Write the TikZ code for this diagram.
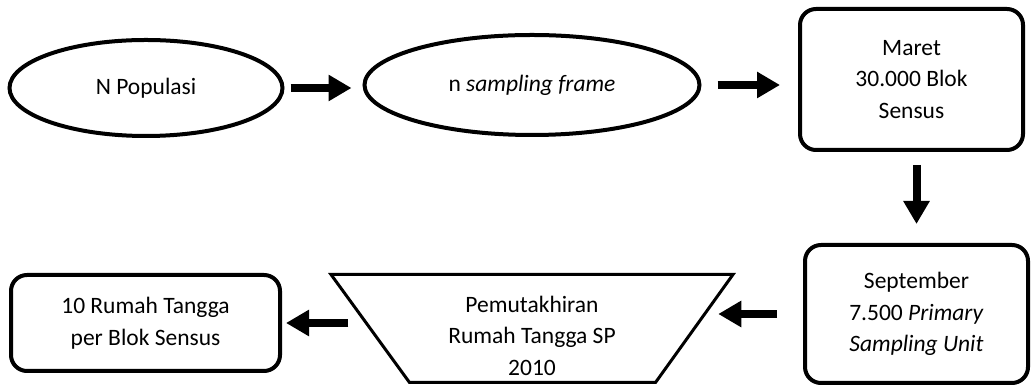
\documentclass[tikz,border=0pt]{standalone}
\usepackage{fontspec}
\setmainfont{Carlito}
\usetikzlibrary{shapes.geometric,arrows.meta}
\begin{document}
\begin{tikzpicture}[x=1pt,y=1pt,
  txt/.style={font=\fontsize{23.5}{31.5}\selectfont, align=center},
  ell/.style={ellipse, draw, line width=4pt, inner sep=0pt, outer sep=0pt, txt},
  rbox/.style={rectangle, rounded corners=16pt, draw, line width=4pt, inner sep=0pt, outer sep=0pt, txt},
  trapline/.style={draw, line width=3pt, line join=miter},
  arr/.style={line width=8pt, -{Triangle[length=23pt,width=25pt]}}
]
\useasboundingbox (0,0) rectangle (1032,387);
\node[ell, minimum width=273pt, minimum height=96pt] (e1) at (146,299) {N Populasi};
\node[ell, minimum width=335pt, minimum height=100pt] (e2) at (532,302) {n \textit{sampling frame}};
\node[rbox, minimum width=223pt, minimum height=141pt] (m) at (911.5,307.5) {Maret\\30.000 Blok\\Sensus};
\node[rbox, minimum width=223pt, minimum height=138pt] (s) at (916.5,73) {September\\7.500 \textit{Primary}\\\textit{Sampling Unit}};
\coordinate (tTL) at (331,112.5);
\coordinate (tTR) at (733,112.5);
\coordinate (tBR) at (655.5,4.5);
\coordinate (tBL) at (409.5,4.5);
\coordinate (tzL) at (370.25,58.5);
\coordinate (tzR) at (694.25,58.5);
\draw[trapline] (tTL) -- (tTR) -- (tBR) -- (tBL) -- cycle;
\node[txt] (tz) at (532,51.5) {Pemutakhiran\\Rumah Tangga SP\\2010};
\node[rbox, minimum width=269pt, minimum height=96pt] (r) at (145.5,64) {10 Rumah Tangga\\per Blok Sensus};

\draw[arr, shorten <=8pt, shorten >=13pt] (e1.east) -- (e1.east -| e2.west);
\draw[arr, shorten <=18pt, shorten >=20pt] (e2.east) -- (e2.east -| m.west);
\draw[arr, shorten <=15pt, shorten >=21pt] (s.north |- m.south) -- (s.north);
\draw[arr, shorten <=28pt, shorten >=24pt] (s.west) -- (s.west -| tzR);
\draw[arr, shorten <=22pt, shorten >=6pt] (r.east -| tzL) -- (r.east);
\end{tikzpicture}
\end{document}
